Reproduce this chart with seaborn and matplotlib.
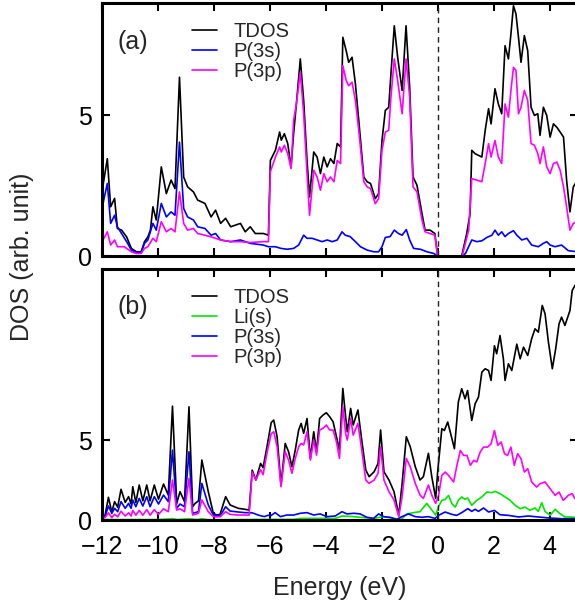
import pandas as pd
import numpy as np
import matplotlib
matplotlib.use('Agg')
import matplotlib.pyplot as plt
import seaborn as sns

# ---- data: (energy eV, DOS) ----
# panel (a)
a_tdos = [(-12.0, 2.3), (-11.95, 2.6), (-11.81, 3.46), (-11.69, 1.75), (-11.55, 2.05), (-11.45, 0.98),
          (-11.3, 0.92), (-11.12, 0.68), (-10.95, 0.27), (-10.77, 0.15), (-10.6, 0.15), (-10.48, 0.51),
          (-10.36, 0.68), (-10.27, 0.92), (-10.18, 1.75), (-10.06, 1.28), (-9.88, 3.17), (-9.7, 2.22),
          (-9.53, 2.70), (-9.39, 2.40), (-9.23, 6.36), (-9.08, 2.81), (-8.94, 2.46), (-8.73, 2.28),
          (-8.58, 1.99), (-8.32, 1.87), (-8.1, 1.39), (-7.94, 1.63), (-7.76, 1.16), (-7.58, 1.34),
          (-7.4, 1.04), (-7.05, 1.16), (-6.88, 0.86), (-6.7, 1.04), (-6.52, 0.80), (-6.23, 0.80),
          (-6.05, 0.74), (-5.98, 3.40), (-5.80, 3.76), (-5.65, 4.41), (-5.59, 4.12), (-5.48, 4.35),
          (-5.36, 4.0), (-5.24, 3.17), (-5.15, 4.35), (-5.05, 5.41), (-4.91, 7.01), (-4.79, 5.53),
          (-4.67, 3.40), (-4.58, 2.10), (-4.43, 3.70), (-4.31, 3.52), (-4.19, 2.93), (-4.07, 3.52),
          (-3.95, 3.17), (-3.83, 3.46), (-3.71, 3.29), (-3.59, 4.0), (-3.47, 3.88), (-3.39, 7.78),
          (-3.27, 7.30), (-3.18, 6.89), (-3.06, 7.07), (-2.94, 6.12), (-2.82, 4.82), (-2.64, 2.81),
          (-2.52, 2.64), (-2.40, 2.58), (-2.23, 2.04), (-2.11, 2.22), (-1.99, 4.11), (-1.87, 5.18),
          (-1.75, 5.29), (-1.67, 6.48), (-1.55, 8.19), (-1.43, 7.07), (-1.27, 5.89), (-1.13, 8.19),
          (-1.0, 6.0), (-0.88, 2.81), (-0.74, 2.52), (-0.56, 1.51), (-0.45, 0.92), (-0.27, 0.92),
          (-0.1, 0.80), (0.0, 0.0), (0.86, 0.0), (1.04, 0.80), (1.16, 1.51), (1.22, 3.76),
          (1.34, 3.64), (1.46, 3.58), (1.58, 3.52), (1.70, 4.47), (1.82, 5.24), (1.91, 4.70),
          (2.05, 5.95), (2.17, 5.41), (2.29, 5.06), (2.41, 7.48), (2.53, 7.01), (2.62, 7.90),
          (2.71, 8.9), (2.80, 8.61), (2.89, 7.78), (2.98, 6.89), (3.1, 7.84), (3.22, 7.30),
          (3.34, 5.29), (3.46, 5.0), (3.58, 5.06), (3.66, 4.29), (3.78, 5.29), (3.9, 5.0),
          (4.02, 4.23), (4.14, 4.70), (4.26, 4.58), (4.38, 4.41), (4.5, 4.23), (4.61, 2.70),
          (4.73, 1.57), (4.85, 2.46), (5.0, 2.7)]

a_p3s = [(-12.0, 1.7), (-11.81, 2.58), (-11.69, 1.16), (-11.55, 1.45), (-11.45, 1.04), (-11.3, 0.80),
         (-11.12, 0.51), (-10.95, 0.21), (-10.77, 0.12), (-10.6, 0.12), (-10.48, 0.45), (-10.36, 0.57),
         (-10.18, 1.16), (-10.06, 0.92), (-9.88, 1.87), (-9.7, 1.39), (-9.53, 1.57), (-9.39, 1.45),
         (-9.23, 4.05), (-9.08, 1.69), (-8.94, 1.39), (-8.73, 1.28), (-8.58, 1.04), (-8.32, 0.98),
         (-8.1, 0.74), (-7.94, 0.80), (-7.76, 0.57), (-7.4, 0.51), (-7.05, 0.57), (-6.7, 0.45),
         (-6.23, 0.39), (-6.05, 0.33), (-5.8, 0.33), (-5.6, 0.27), (-5.38, 0.24), (-5.15, 0.27),
         (-4.97, 0.39), (-4.79, 0.74), (-4.67, 0.63), (-4.49, 0.63), (-4.31, 0.57), (-4.13, 0.51),
         (-3.95, 0.57), (-3.77, 0.51), (-3.59, 0.57), (-3.42, 0.86), (-3.3, 0.74), (-3.13, 0.69),
         (-2.94, 0.51), (-2.76, 0.33), (-2.52, 0.21), (-2.28, 0.15), (-2.11, 0.15), (-1.99, 0.33),
         (-1.87, 0.66), (-1.7, 0.69), (-1.55, 0.92), (-1.4, 0.80), (-1.27, 0.74), (-1.12, 0.94),
         (-1.0, 0.57), (-0.86, 0.27), (-0.62, 0.24), (-0.38, 0.15), (-0.14, 0.09), (0.0, 0.0),
         (0.9, 0.0), (1.0, 0.1), (1.22, 0.57), (1.4, 0.51), (1.58, 0.54), (1.76, 0.66),
         (1.94, 0.74), (2.05, 0.92), (2.17, 0.74), (2.29, 0.86), (2.41, 0.69), (2.53, 0.80),
         (2.71, 0.90), (2.83, 0.74), (3.01, 0.57), (3.19, 0.63), (3.36, 0.39), (3.6, 0.33),
         (3.78, 0.45), (3.9, 0.51), (4.02, 0.39), (4.2, 0.33), (4.43, 0.39), (4.67, 0.19),
         (5.0, 0.15)]

a_p3p = [(-12.0, 0.5), (-11.81, 0.86), (-11.69, 0.39), (-11.55, 0.57), (-11.45, 0.33), (-11.2, 0.33),
         (-10.95, 0.15), (-10.77, 0.09), (-10.6, 0.09), (-10.48, 0.27), (-10.36, 0.33), (-10.18, 0.63),
         (-10.06, 0.51), (-9.88, 1.22), (-9.7, 0.86), (-9.53, 0.98), (-9.39, 0.86), (-9.23, 2.28),
         (-9.08, 1.16), (-8.94, 0.92), (-8.73, 0.98), (-8.58, 0.80), (-8.32, 0.74), (-8.1, 0.68),
         (-7.76, 0.57), (-7.4, 0.51), (-7.05, 0.51), (-6.7, 0.48), (-6.23, 0.51), (-6.05, 0.51),
         (-5.98, 3.0), (-5.80, 3.52), (-5.65, 3.88), (-5.59, 3.70), (-5.48, 3.94), (-5.36, 3.64),
         (-5.24, 3.11), (-5.15, 4.82), (-5.05, 5.41), (-4.91, 6.54), (-4.79, 5.06), (-4.67, 2.93),
         (-4.58, 1.45), (-4.43, 3.05), (-4.31, 2.81), (-4.19, 2.34), (-4.07, 2.93), (-3.95, 2.64),
         (-3.83, 2.81), (-3.71, 2.64), (-3.59, 3.40), (-3.47, 3.29), (-3.39, 6.77), (-3.27, 6.24),
         (-3.18, 6.06), (-3.06, 6.18), (-2.94, 5.53), (-2.82, 4.47), (-2.64, 2.64), (-2.52, 2.46),
         (-2.40, 2.40), (-2.23, 1.86), (-2.11, 2.04), (-1.99, 3.76), (-1.87, 4.41), (-1.75, 4.47),
         (-1.67, 5.65), (-1.55, 7.01), (-1.43, 6.24), (-1.27, 5.06), (-1.13, 7.01), (-1.0, 5.65),
         (-0.88, 2.46), (-0.74, 2.28), (-0.56, 1.28), (-0.45, 0.86), (-0.27, 0.80), (-0.1, 0.74),
         (0.0, 0.0), (0.88, 0.0), (0.93, 0.21), (1.11, 0.92), (1.22, 2.75), (1.4, 2.70),
         (1.58, 2.64), (1.70, 3.29), (1.82, 4.0), (1.91, 3.52), (2.05, 4.11), (2.17, 3.52),
         (2.29, 3.29), (2.41, 5.41), (2.53, 4.94), (2.62, 5.89), (2.71, 6.71), (2.80, 6.6),
         (2.89, 5.06), (2.98, 5.29), (3.1, 5.89), (3.22, 5.53), (3.34, 4.0), (3.46, 3.94),
         (3.58, 3.64), (3.66, 3.29), (3.78, 3.88), (3.9, 3.17), (4.02, 2.93), (4.14, 3.29),
         (4.26, 3.34), (4.38, 3.05), (4.5, 2.46), (4.61, 1.75), (4.73, 0.92), (4.85, 1.16),
         (5.0, 1.22)]

# panel (b)
b_tdos = [(-12.0, 0.2), (-11.89, 0.3), (-11.77, 1.42), (-11.65, 0.5), (-11.55, 1.15), (-11.44, 0.8),
          (-11.32, 1.92), (-11.17, 1.1), (-11.05, 1.46), (-10.96, 1.0), (-10.9, 2.08), (-10.79, 1.1),
          (-10.67, 2.19), (-10.54, 1.2), (-10.4, 2.19), (-10.28, 1.2), (-10.13, 2.19), (-9.98, 1.3),
          (-9.8, 2.25), (-9.63, 1.56), (-9.48, 7.12), (-9.33, 1.04), (-9.21, 1.77), (-9.05, 1.15),
          (-8.89, 7.08), (-8.76, 0.83), (-8.67, 1.04), (-8.55, 1.2), (-8.43, 3.75), (-8.2, 1.77),
          (-8.02, 0.42), (-7.9, 0.31), (-7.78, 0.35), (-7.58, 1.46), (-7.42, 0.94), (-7.13, 0.73),
          (-6.89, 0.67), (-6.74, 0.62), (-6.63, 3.12), (-6.5, 2.5), (-6.33, 3.54), (-6.24, 3.27),
          (-6.1, 4.6), (-5.95, 6.1), (-5.86, 6.25), (-5.74, 5.21), (-5.60, 2.19), (-5.45, 4.79),
          (-5.33, 4.27), (-5.21, 3.33), (-5.09, 4.38), (-4.97, 5.63), (-4.88, 6.04), (-4.79, 5.42),
          (-4.67, 6.35), (-4.55, 3.85), (-4.43, 5.52), (-4.33, 4.27), (-4.22, 6.35), (-4.10, 6.56),
          (-3.98, 6.71), (-3.86, 6.46), (-3.74, 6.15), (-3.62, 5.21), (-3.51, 4.38), (-3.39, 8.23),
          (-3.29, 6.46), (-3.23, 5.52), (-3.11, 6.98), (-3.02, 5.94), (-2.85, 6.88), (-2.73, 5.21),
          (-2.57, 3.13), (-2.45, 2.71), (-2.27, 3.02), (-2.13, 3.54), (-2.04, 5.63), (-1.92, 3.02),
          (-1.74, 2.50), (-1.56, 1.77), (-1.39, 0.31), (-1.27, 2.29), (-1.12, 5.21), (-0.98, 4.58),
          (-0.80, 3.33), (-0.63, 2.50), (-0.51, 2.71), (-0.33, 4.17), (-0.21, 2.71), (-0.07, 1.35),
          (0.0, 3.0), (0.15, 5.71), (0.24, 5.6), (0.36, 6.13), (0.48, 5.29), (0.6, 4.46),
          (0.74, 7.38), (0.86, 8.21), (0.98, 7.58), (1.07, 8.1), (1.22, 6.23), (1.34, 7.27),
          (1.46, 7.69), (1.58, 9.25), (1.70, 9.46), (1.82, 9.35), (1.91, 8.73), (2.03, 10.9),
          (2.11, 10.4), (2.23, 11.54), (2.35, 10.08), (2.41, 8.73), (2.53, 9.77), (2.65, 9.35),
          (2.83, 11.0), (2.95, 10.08), (3.07, 10.81), (3.22, 10.29), (3.36, 11.33), (3.48, 11.96),
          (3.6, 11.75), (3.74, 13.42), (3.84, 12.9), (3.96, 11.13), (4.1, 9.46), (4.22, 10.71),
          (4.34, 12.27), (4.43, 12.69), (4.55, 12.17), (4.65, 12.69), (4.73, 13.1), (4.81, 14.35),
          (4.91, 14.67), (5.0, 14.8)]

b_lis = [(-12.0, 0.03), (-10.0, 0.03), (-9.48, 0.08), (-9.3, 0.03), (-8.89, 0.08), (-8.6, 0.03),
         (-8.43, 0.08), (-8.2, 0.02), (-6.0, 0.04), (-5.15, 0.04), (-4.91, 0.10), (-3.66, 0.10),
         (-3.42, 0.25), (-3.0, 0.21), (-2.77, 0.17), (-2.29, 0.10), (-1.93, 0.21), (-1.6, 0.10),
         (-1.3, 0.04), (-1.1, 0.38), (-0.86, 0.46), (-0.63, 0.52), (-0.39, 1.04), (-0.21, 0.63),
         (-0.07, 0.31), (0.03, 0.83), (0.15, 1.23), (0.27, 1.29), (0.39, 1.54), (0.51, 1.02),
         (0.63, 0.81), (0.74, 1.23), (0.86, 1.44), (0.98, 1.29), (1.07, 1.38), (1.22, 0.92),
         (1.4, 1.23), (1.58, 1.44), (1.76, 1.75), (1.94, 1.71), (2.05, 1.79), (2.23, 1.65),
         (2.41, 1.44), (2.59, 1.23), (2.77, 0.92), (2.95, 0.71), (3.13, 0.81), (3.3, 0.6),
         (3.48, 0.75), (3.6, 0.54), (3.72, 1.08), (3.84, 0.54), (4.02, 0.29), (4.2, 0.67),
         (4.37, 0.40), (4.55, 0.19), (4.79, 0.19), (5.0, 0.13)]

b_p3s = [(-12.0, 0.15), (-11.89, 0.21), (-11.77, 0.875), (-11.65, 0.42), (-11.55, 0.73), (-11.44, 0.52),
         (-11.32, 1.15), (-11.17, 0.73), (-11.05, 1.04), (-10.96, 0.73), (-10.9, 1.25), (-10.79, 0.83),
         (-10.67, 1.35), (-10.54, 0.875), (-10.4, 1.46), (-10.28, 0.83), (-10.13, 1.46), (-9.98, 1.0),
         (-9.8, 1.56), (-9.63, 1.15), (-9.48, 4.37), (-9.33, 0.73), (-9.21, 1.0), (-9.05, 0.83),
         (-8.89, 4.27), (-8.76, 0.42), (-8.55, 0.52), (-8.43, 2.29), (-8.2, 0.94), (-8.02, 0.31),
         (-7.78, 0.25), (-7.58, 0.83), (-7.42, 0.56), (-7.13, 0.5), (-6.89, 0.46), (-6.63, 0.45),
         (-6.4, 0.3), (-6.2, 0.21), (-6.05, 0.3), (-5.98, 0.25), (-5.81, 0.46), (-5.62, 0.21),
         (-5.39, 0.31), (-5.15, 0.31), (-4.91, 0.42), (-4.67, 0.46), (-4.43, 0.31), (-4.2, 0.38),
         (-3.96, 0.21), (-3.66, 0.25), (-3.42, 0.52), (-3.24, 0.38), (-3.0, 0.42), (-2.77, 0.38),
         (-2.53, 0.17), (-2.29, 0.10), (-2.11, 0.38), (-1.93, 0.21), (-1.7, 0.17), (-1.46, 0.04),
         (-1.28, 0.21), (-1.04, 0.38), (-0.8, 0.21), (-0.56, 0.17), (-0.33, 0.21), (-0.09, 0.10),
         (0.03, 0.29), (0.27, 0.5), (0.51, 0.35), (0.68, 0.29), (0.86, 0.46), (1.08, 0.71),
         (1.22, 0.54), (1.34, 0.67), (1.46, 0.54), (1.64, 0.75), (1.82, 0.5), (2.03, 0.6),
         (2.23, 0.33), (2.53, 0.29), (2.89, 0.19), (3.24, 0.25), (3.6, 0.19), (3.96, 0.13),
         (4.43, 0.08), (5.0, 0.08)]

b_p3p = [(-12.0, 0.1), (-11.89, 0.15), (-11.77, 0.45), (-11.65, 0.15), (-11.55, 0.35), (-11.44, 0.2),
         (-11.32, 0.55), (-11.17, 0.25), (-11.05, 0.45), (-10.96, 0.25), (-10.9, 0.6), (-10.79, 0.3),
         (-10.67, 0.6), (-10.54, 0.3), (-10.4, 0.65), (-10.28, 0.3), (-10.13, 0.65), (-9.98, 0.35),
         (-9.8, 0.7), (-9.63, 0.52), (-9.48, 2.5), (-9.33, 0.62), (-9.21, 0.7), (-9.05, 0.52),
         (-8.89, 2.6), (-8.76, 0.31), (-8.55, 0.42), (-8.43, 1.25), (-8.2, 0.52), (-8.02, 0.21),
         (-7.9, 0.2), (-7.78, 0.2), (-7.58, 0.52), (-7.42, 0.35), (-7.13, 0.31), (-6.89, 0.31),
         (-6.74, 0.31), (-6.63, 3.0), (-6.5, 2.5), (-6.33, 3.15), (-6.24, 2.83), (-6.1, 4.2),
         (-5.95, 5.4), (-5.86, 5.52), (-5.74, 4.58), (-5.60, 2.08), (-5.45, 4.27), (-5.33, 3.75),
         (-5.21, 2.92), (-5.09, 3.85), (-4.97, 4.58), (-4.88, 4.79), (-4.79, 4.69), (-4.67, 5.52),
         (-4.55, 3.75), (-4.43, 5.0), (-4.33, 4.06), (-4.22, 5.63), (-4.10, 5.73), (-3.98, 5.94),
         (-3.86, 5.63), (-3.74, 5.63), (-3.62, 4.90), (-3.51, 3.85), (-3.39, 7.08), (-3.29, 5.42),
         (-3.23, 5.0), (-3.11, 6.35), (-3.02, 5.31), (-2.85, 6.04), (-2.73, 4.58), (-2.57, 2.5),
         (-2.45, 2.29), (-2.27, 2.5), (-2.13, 2.92), (-2.04, 4.58), (-1.92, 2.5), (-1.74, 1.77),
         (-1.56, 1.25), (-1.39, 0.21), (-1.27, 1.46), (-1.12, 3.85), (-0.98, 3.33), (-0.80, 2.29),
         (-0.63, 1.56), (-0.51, 1.35), (-0.33, 2.19), (-0.21, 1.56), (-0.07, 1.04), (0.03, 1.5),
         (0.15, 2.79), (0.27, 3.0), (0.39, 2.79), (0.57, 2.38), (0.69, 3.42), (0.81, 4.35),
         (0.93, 4.04), (1.05, 4.04), (1.17, 3.42), (1.29, 3.73), (1.4, 3.63), (1.52, 4.25),
         (1.64, 4.56), (1.79, 4.56), (1.91, 4.77), (2.03, 5.6), (2.15, 4.67), (2.27, 4.88),
         (2.39, 4.15), (2.5, 4.04), (2.62, 4.56), (2.74, 3.42), (2.86, 4.15), (2.98, 3.83),
         (3.1, 3.0), (3.22, 3.21), (3.36, 2.38), (3.54, 2.06), (3.66, 2.27), (3.84, 2.38),
         (4.02, 1.96), (4.2, 1.54), (4.34, 1.75), (4.49, 1.23), (4.67, 1.54), (4.81, 1.65),
         (4.91, 1.33), (5.0, 1.4)]

x_ticks = [-12, -10, -8, -6, -4, -2, 0, 2, 4]
y_ticks = [0, 5]

palette = {'TDOS': 'black', 'Li(s)': '#00e600', 'P(3s)': '#0000ff', 'P(3p)': '#ff00ff'}


def to_frame(series):
    parts = [pd.DataFrame(pts, columns=['E', 'DOS']).assign(orbital=name) for name, pts in series]
    return pd.concat(parts, ignore_index=True)


df_a = to_frame([('TDOS', a_tdos), ('P(3s)', a_p3s), ('P(3p)', a_p3p)])
df_b = to_frame([('TDOS', b_tdos), ('Li(s)', b_lis), ('P(3s)', b_p3s), ('P(3p)', b_p3p)])

sns.set_style('ticks')
plt.rcParams['font.family'] = ['Liberation Sans', 'DejaVu Sans']

W, H = 575, 611
fig = plt.figure(figsize=(W / 100, H / 100), dpi=100)
left, right = 102 / W, 577.5 / W
ax_a = fig.add_axes([left, 1 - 256 / H, right - left, (256 - 3) / H])
ax_b = fig.add_axes([left, 1 - 520 / H, right - left, (520 - 269) / H])

for ax, df, order, ymax, tag in [(ax_a, df_a, ['TDOS', 'P(3s)', 'P(3p)'], 9.0, '(a)'),
                                 (ax_b, df_b, ['TDOS', 'Li(s)', 'P(3s)', 'P(3p)'], 15.7, '(b)')]:
    sns.lineplot(data=df, x='E', y='DOS', hue='orbital', hue_order=order, palette=palette,
                 estimator=None, linewidth=1.2, ax=ax)
    ax.axvline(0, color='#222222', linestyle=(0, (4, 3)), linewidth=1.0)
    ax.set_xlim(-12, 5)
    ax.set_ylim(0, ymax)
    ax.set_xticks(x_ticks)
    ax.set_yticks(y_ticks)
    ax.set_xlabel('')
    ax.set_ylabel('')
    ax.tick_params(direction='in', top=True, right=True, length=6, width=1.5,
                   labelsize=18, colors='black')
    ax.tick_params(axis='y', pad=7)
    ax.tick_params(axis='x', pad=11)
    for sp in ax.spines.values():
        sp.set_linewidth(2.2)
        sp.set_color('black')
    handles, labels = ax.get_legend_handles_labels()
    for h in handles:
        h.set_linewidth(1.2)
    ax.legend(handles, labels, loc='upper left', bbox_to_anchor=(0.189, 0.925), frameon=False,
              fontsize=14.5, handlelength=1.25, handletextpad=0.8, labelspacing=0.05,
              borderpad=0, borderaxespad=0)
    ax.text(0.032, 0.847, tag, transform=ax.transAxes, fontsize=18, ha='left', va='center')

ax_a.tick_params(labelbottom=False)
ax_b.set_xlabel('Energy (eV)', fontsize=18, labelpad=12)
fig.text(22 / W, 1 - 257 / H, 'DOS (arb. unit)', rotation=90, fontsize=18, ha='center', va='center')

fig.savefig('out.png', dpi=100)
